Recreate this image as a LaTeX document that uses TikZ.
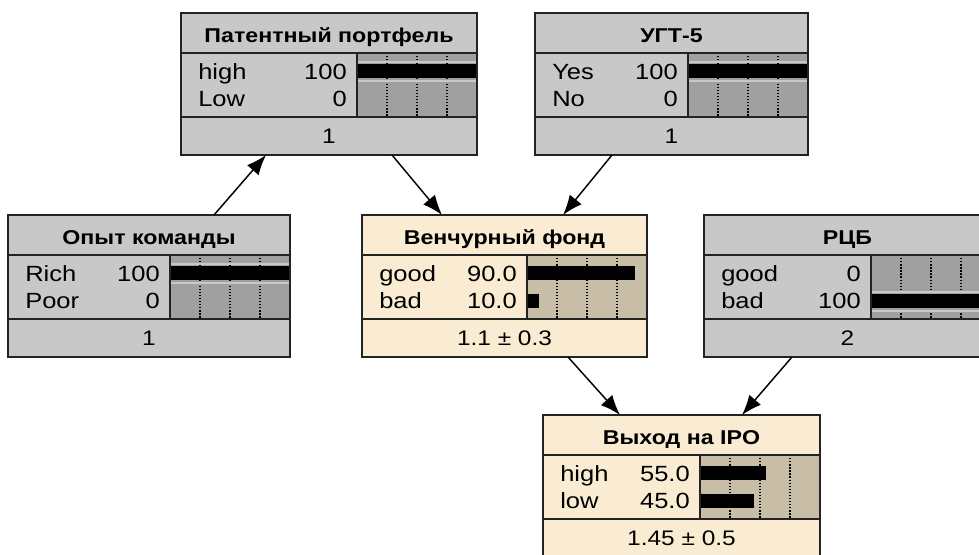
\documentclass[tikz,border=0pt]{standalone}
\usepackage{fontspec}
\setmainfont{Liberation Sans}[FakeStretch=1.16]
\usetikzlibrary{arrows.meta,calc}
\definecolor{ngrey}{RGB}{200,200,200}
\definecolor{ngreybar}{RGB}{160,160,160}
\definecolor{nbeige}{RGB}{250,236,210}
\definecolor{nbeigebar}{RGB}{200,189,166}
\definecolor{edgecol}{RGB}{35,35,35}
\tikzset{
  frame/.style={draw=none, inner sep=0pt, outer sep=0pt},
  frameline/.style={draw=edgecol, line width=1.5pt},
  gridline/.style={black, line width=0.9pt, dash pattern=on 1pt off 1.3pt},
  ttl/.style={inner sep=0pt, font=\fontsize{15}{18}\selectfont\bfseries},
  val/.style={inner sep=0pt, font=\fontsize{16.5}{18}\selectfont},
  foot/.style={inner sep=0pt, font=\fontsize{15.8}{18}\selectfont},
  conn/.style={line width=1.1pt, -{Latex[length=15pt,width=11.5pt]}},
}
% #1 name, #2 left, #3 top, #4 width, #5 fill, #6 bar fill, #7 title, #8 footer
\newcommand\netbox[8]{%
  \node[frame, fill=#5, minimum width={#4*0.75pt}, minimum height={142*0.75pt}, anchor=north west] (#1) at (#2,#3) {};
  \fill[#6] (#2+#4-120,#3+40) rectangle (#2+#4,#3+104);
  \foreach \f in {0.25,0.5,0.75} {\draw[gridline] (#2+#4-120+120*\f,#3+40) -- (#2+#4-120+120*\f,#3+104);}
  \node[ttl, anchor=base] (#1-title) at (#2+#4/2,#3+29) {#7};
  \node[foot, anchor=base] (#1-foot) at (#2+#4/2,#3+130) {#8};
}
% #1 name, #2 left, #3 top, #4 width, #5 row, #6 label, #7 value, #8 percent, #9 evidence
\newcommand\netrow[9]{%
  \pgfmathsetmacro\rowtext{#3+66+27*(#5-1)}%
  \pgfmathsetmacro\rowbar{#3+51+28*(#5-1)}%
  \node[val, anchor=base west] (#1-l#5) at (#2+17,\rowtext) {#6};
  \node[val, anchor=base east] (#1-v#5) at (#2+#4-130,\rowtext) {#7};
  \ifnum#9=1
    \fill[ngrey] (#2+#4-120,\rowbar-3.5) rectangle (#2+#4,\rowbar-1.5);
    \fill[ngrey] (#2+#4-120,\rowbar+16) rectangle (#2+#4,\rowbar+18);
  \fi
  \fill[black] (#2+#4-120,\rowbar) rectangle (#2+#4-120+1.2*#8,\rowbar+14);
}
% #1 name, #2 left, #3 top, #4 width
\newcommand\netclose[4]{%
  \draw[frameline] (#2,#3+40) -- (#2+#4,#3+40);
  \draw[frameline] (#2,#3+104) -- (#2+#4,#3+104);
  \draw[frameline] (#2+#4-120,#3+40) -- (#2+#4-120,#3+104);
  \draw[frameline] (#1.north west) rectangle (#1.south east);
}
\begin{document}
\begin{tikzpicture}[x=0.75pt,y=-0.75pt]
\useasboundingbox (0,0) rectangle (979,554);
\clip (0,0) rectangle (979,554);

% Патентный портфель
\netbox{pat}{181}{13}{296}{ngrey}{ngreybar}{Патентный портфель}{1}
\netrow{pat}{181}{13}{296}{1}{high}{100}{100}{1}
\netrow{pat}{181}{13}{296}{2}{Low}{0}{0}{0}
\netclose{pat}{181}{13}{296}

% УГТ-5
\netbox{ugt}{535}{13}{273}{ngrey}{ngreybar}{УГТ-5}{1}
\netrow{ugt}{535}{13}{273}{1}{Yes}{100}{100}{1}
\netrow{ugt}{535}{13}{273}{2}{No}{0}{0}{0}
\netclose{ugt}{535}{13}{273}

% Опыт команды
\netbox{opyt}{8}{215}{282}{ngrey}{ngreybar}{Опыт команды}{1}
\netrow{opyt}{8}{215}{282}{1}{Rich}{100}{100}{1}
\netrow{opyt}{8}{215}{282}{2}{Poor}{0}{0}{0}
\netclose{opyt}{8}{215}{282}

% Венчурный фонд
\netbox{ven}{362}{215}{285}{nbeige}{nbeigebar}{Венчурный фонд}{1.1 ± 0.3}
\netrow{ven}{362}{215}{285}{1}{good}{90.0}{90}{0}
\netrow{ven}{362}{215}{285}{2}{bad}{10.0}{10}{0}
\netclose{ven}{362}{215}{285}

% РЦБ
\netbox{rcb}{704}{215}{287}{ngrey}{ngreybar}{РЦБ}{2}
\netrow{rcb}{704}{215}{287}{1}{good}{0}{0}{0}
\netrow{rcb}{704}{215}{287}{2}{bad}{100}{100}{1}
\netclose{rcb}{704}{215}{287}

% Выход на IPO
\netbox{ipo}{543}{415}{277}{nbeige}{nbeigebar}{Выход на IPO}{1.45 ± 0.5}
\netrow{ipo}{543}{415}{277}{1}{high}{55.0}{55}{0}
\netrow{ipo}{543}{415}{277}{2}{low}{45.0}{45}{0}
\netclose{ipo}{543}{415}{277}

% connectors
\draw[conn] ($(opyt.north)+(65,0)$) -- ($(pat.south)+(-63,0)$);
\draw[conn] ($(pat.south)+(63,0)$) -- ($(ven.north)+(-62.5,0)$);
\draw[conn] ($(ugt.south)+(-59.5,0)$) -- ($(ven.north)+(58.5,0)$);
\draw[conn] ($(ven.south)+(63.5,0)$) -- ($(ipo.north)+(-61.5,0)$);
\draw[conn] ($(rcb.south)+(-55.5,0)$) -- ($(ipo.north)+(60.5,0)$);
\end{tikzpicture}
\end{document}
